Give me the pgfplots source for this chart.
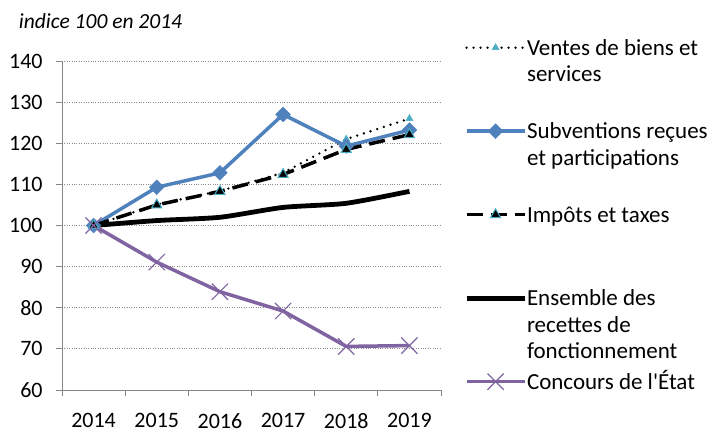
\documentclass[border=0pt]{standalone}
\usepackage{pgfplots}
\pgfplotsset{compat=1.18}
\usepackage{fontspec}
\setmainfont{Carlito}
\definecolor{sblue}{HTML}{4F81BD}
\definecolor{spurple}{HTML}{8064A2}
\definecolor{scyan}{HTML}{4BACC6}
\definecolor{axgray}{HTML}{868686}
\begin{document}
\fontsize{21.5bp}{26.5bp}\selectfont
\begin{tikzpicture}
\path[use as bounding box] (-62bp,-44bp) rectangle (649bp,390bp);
\begin{axis}[
  scale only axis, width=379bp, height=329bp,
  xmin=-0.5, xmax=5.5, ymin=60, ymax=140,
  xtick={-0.5,0.5,...,5.5},
  xticklabels={2014,2015,2016,2017,2018,2019,{}},
  xticklabel style={xshift=31.58bp, yshift=-16.5bp, text depth=0pt, inner ysep=1bp},
  yticklabel style={xshift=-6bp},
  ytick={60,70,...,140},
  axis x line=bottom, axis y line=left,
  axis line style={-, draw=axgray, line width=1bp},
  tick align=outside, major tick length=6bp,
  tick style={draw=axgray, line width=1bp},
  ymajorgrids, grid style={draw=gray!90, dotted, line width=1bp},
  /pgf/number format/assume math mode=true,
  tick label style={font=\fontsize{22bp}{26bp}\selectfont},
  clip=false,
  legend style={draw=none, fill=none, at={(1.0607,1.070)}, anchor=north west,
    row sep=0pt, inner sep=0pt,
    cells={anchor=base west},
    nodes={inner sep=0pt, text height=17bp, text depth=66.5bp},
    /tikz/every even column/.append style={column sep=5bp},
    font=\fontsize{23bp}{26.5bp}\selectfont},
  legend image code/.code={\draw[mark repeat=2,mark phase=2,#1] plot coordinates {(0bp,7.5bp) (29bp,7.5bp) (58bp,7.5bp)};},
]
\addplot[black, line width=2.6bp, line cap=round, dash pattern=on 0bp off 7bp,
  mark=triangle*, mark size=4bp, mark options={solid, fill=scyan, draw=scyan, line width=0.5bp}]
  coordinates {(0,100) (1,105.1) (2,108.4) (3,112.8) (4,121) (5,126)};
\addlegendentry{\parbox[t]{185bp}{Ventes de biens et\\services}}
\addplot[sblue, line width=3.5bp,
  mark=square*, mark size=5.2bp, mark options={solid, rotate=45, fill=sblue, draw=sblue, line width=0.5bp}]
  coordinates {(0,100) (1,109.3) (2,112.8) (3,127) (4,119.3) (5,123.2)};
\addlegendentry{\parbox[t]{185bp}{Subventions reçues\\et participations}}
\addplot[black, line width=3.5bp, dash pattern=on 16bp off 8bp,
  mark=triangle*, mark size=5.8bp, mark options={solid, fill=black, draw=scyan, line width=1bp}]
  coordinates {(0,100) (1,105) (2,108.3) (3,112.4) (4,118.5) (5,122.1)};
\addlegendentry{\parbox[t]{185bp}{Impôts et taxes}}
\addplot[black, line width=4.8bp, smooth, tension=0.4, no markers]
  coordinates {(0,100) (1,101.2) (2,102) (3,104.4) (4,105.4) (5,108.3)};
\addlegendentry{\parbox[t]{185bp}{Ensemble des\\recettes de\\fonctionnement}}
\addplot[spurple, line width=3.5bp,
  mark=x, mark size=11.5bp, mark options={solid, draw=spurple, line width=1.2bp}]
  coordinates {(0,100) (1,91.1) (2,83.9) (3,79.2) (4,70.6) (5,70.8)};
\addlegendentry{\parbox[t]{185bp}{Concours de l\textquotesingle État}}
\end{axis}
\node[anchor=base west, font=\fontsize{21.5bp}{26bp}\selectfont\itshape] at (-50.5bp,361bp) {indice 100 en 2014};
\end{tikzpicture}
\end{document}
